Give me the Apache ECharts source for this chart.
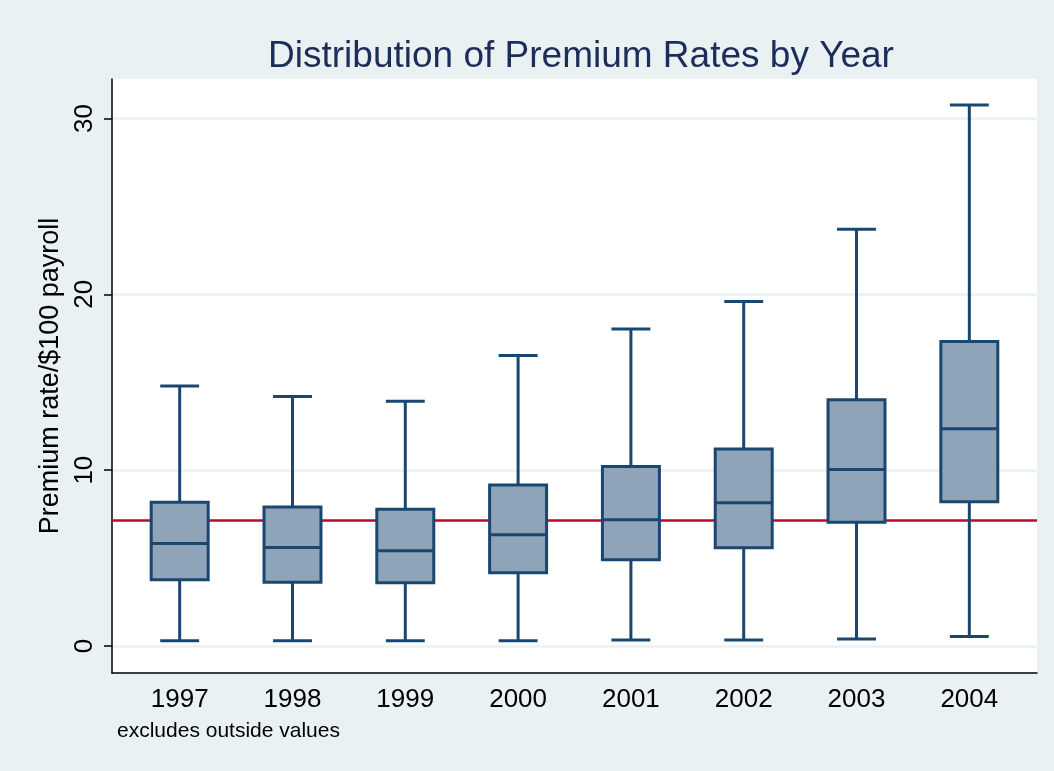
<!DOCTYPE html>
<html>
<head>
<meta charset="utf-8">
<script src="https://cdn.jsdelivr.net/npm/echarts@6/dist/echarts.min.js"></script>
<style>
  html, body { margin: 0; padding: 0; background: #eaf1f3; }
  #chart { width: 1054px; height: 771px; }
</style>
</head>
<body>
<div id="chart"></div>
<script>
// ---- data ----
const years = ['1997', '1998', '1999', '2000', '2001', '2002', '2003', '2004'];
const lowWhisker = [0.30, 0.30, 0.30, 0.30, 0.34, 0.34, 0.40, 0.53];
const q1 = [3.76, 3.62, 3.59, 4.16, 4.90, 5.58, 7.03, 8.20];
const median = [5.83, 5.60, 5.41, 6.32, 7.18, 8.15, 10.03, 12.36];
const q3 = [8.17, 7.90, 7.77, 9.15, 10.20, 11.20, 14.00, 17.32];
const highWhisker = [14.78, 14.19, 13.92, 16.52, 18.03, 19.60, 23.70, 30.77];
const referenceLine = 7.15;
const yTicks = [0, 10, 20, 30];

const FONT = "'Liberation Sans', Arial, sans-serif";
const boxData = years.map((y, i) => [i + 1, lowWhisker[i], q1[i], median[i], q3[i], highWhisker[i]]);

const chart = echarts.init(document.getElementById('chart'));

function renderBox(params, api) {
  const x = api.value(0);
  const pLow = api.coord([x, api.value(1)]);
  const pQ1 = api.coord([x, api.value(2)]);
  const pMed = api.coord([x, api.value(3)]);
  const pQ3 = api.coord([x, api.value(4)]);
  const pHigh = api.coord([x, api.value(5)]);
  const unit = api.size([1, 0])[0];
  const bw = unit * 0.505;
  const cw = unit * 0.345;
  const cx = pMed[0];
  const stroke = { stroke: '#1a476f', lineWidth: 3, fill: null };
  return {
    type: 'group',
    children: [
      { type: 'line', shape: { x1: cx, y1: pQ3[1], x2: cx, y2: pHigh[1] }, style: stroke },
      { type: 'line', shape: { x1: cx, y1: pQ1[1], x2: cx, y2: pLow[1] }, style: stroke },
      { type: 'line', shape: { x1: cx - cw / 2, y1: pHigh[1], x2: cx + cw / 2, y2: pHigh[1] }, style: stroke },
      { type: 'line', shape: { x1: cx - cw / 2, y1: pLow[1], x2: cx + cw / 2, y2: pLow[1] }, style: stroke },
      { type: 'rect', shape: { x: cx - bw / 2, y: pQ3[1], width: bw, height: pQ1[1] - pQ3[1] },
        style: { fill: '#8fa4b9', stroke: '#1a476f', lineWidth: 3 } },
      { type: 'line', shape: { x1: cx - bw / 2, y1: pMed[1], x2: cx + bw / 2, y2: pMed[1] }, style: stroke }
    ]
  };
}

const option = {
  backgroundColor: '#eaf1f3',
  animation: false,
  title: {
    text: 'Distribution of Premium Rates by Year',
    left: 576,
    top: 33,
    textAlign: 'center',
    textStyle: { fontFamily: FONT, fontSize: 37, fontWeight: 'normal', color: '#1c2d5a' }
  },
  grid: {
    left: 112, right: 17, top: 79, bottom: 98,
    show: true, backgroundColor: '#ffffff', borderWidth: 0
  },
  xAxis: {
    type: 'value',
    min: 0.4, max: 8.6,
    axisLine: { show: true, onZero: false, lineStyle: { color: '#000000', width: 1.5 } },
    axisTick: { show: false },
    splitLine: { show: false },
    axisLabel: {
      customValues: years.map((y, i) => i + 1),
      formatter: v => years[Math.round(v) - 1] || '',
      fontFamily: FONT, fontSize: 26, color: '#000000', margin: 14
    }
  },
  yAxis: {
    type: 'value',
    min: -1.54, max: 32.25,
    name: 'Premium rate/$100 payroll',
    nameLocation: 'middle',
    nameGap: 47,
    nameTextStyle: { fontFamily: FONT, fontSize: 27, color: '#000000' },
    axisLine: { show: true, onZero: false, lineStyle: { color: '#000000', width: 1.5 } },
    axisTick: { show: true, length: 8, customValues: yTicks, lineStyle: { color: '#000000', width: 1.5 } },
    splitLine: { show: true, lineStyle: { color: '#eaf1f3', width: 2.5 } },
    axisLabel: {
      customValues: yTicks,
      rotate: 90,
      fontFamily: FONT, fontSize: 26, color: '#000000', margin: 14
    }
  },
  graphic: [
    {
      type: 'text', left: 117, top: 721,
      style: { text: 'excludes outside values', font: "21px 'Liberation Sans', Arial, sans-serif", fill: '#000000' }
    }
  ],
  series: [
    {
      type: 'line',
      data: [],
      z: 1,
      markLine: {
        silent: true,
        z: 1,
        symbol: 'none',
        label: { show: false },
        lineStyle: { color: '#c10534', width: 2.5, type: 'solid' },
        data: [{ yAxis: referenceLine }]
      }
    },
    {
      type: 'custom',
      z: 10,
      renderItem: renderBox,
      encode: { x: 0, y: [1, 2, 3, 4, 5] },
      data: boxData
    }
  ]
};
chart.setOption(option);
</script>
</body>
</html>
